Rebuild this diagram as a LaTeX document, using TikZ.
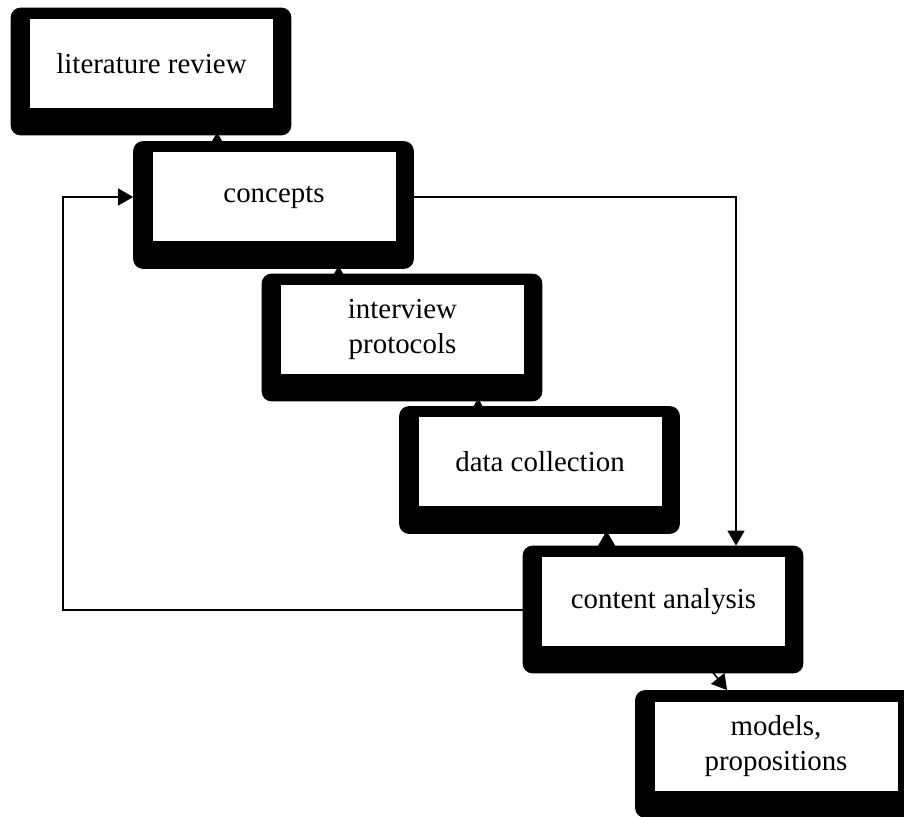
\documentclass[tikz,border=0pt]{standalone}
\usepackage{fontspec}
\setmainfont{Liberation Serif}
\usetikzlibrary{arrows.meta,backgrounds,calc}
\begin{document}
\begin{tikzpicture}[x=0.5pt,y=-0.5pt,
  procbox/.style={fill=white, inner sep=0pt, minimum width=121.5pt, minimum height=44.5pt,
    align=center, font=\fontsize{14.45}{17.5}\selectfont},
  shadowbox/.style={fill=black, rounded corners=5pt},
  arr/.style={-{Triangle[length=7.5pt,width=8.5pt]}, line width=0.8pt},
]
\useasboundingbox (0,0) rectangle (904,817);

\node[procbox] (lit) at (151.5,63.5) {literature review};
\node[procbox] (concepts) at (274,197) {concepts};
\node[procbox] (interview) at (402.5,329.5) {interview\\protocols};
\node[procbox] (data) at (540,462) {data collection};
\node[procbox] (content) at (663.5,601.5) {content analysis};
\node[procbox] (models) at (776,746) {models,\\propositions};

% anchor points for the short connectors
\coordinate (litb) at ([yshift=-12pt]lit.south);
\coordinate (conb) at ([yshift=-12pt]concepts.south);
\coordinate (intb) at ([yshift=-12pt]interview.south);
\coordinate (datb) at ([yshift=-12pt]data.south);
\coordinate (s1) at ([xshift=32.5pt,yshift=-6pt]concepts.north west);
\coordinate (s2) at ([xshift=29pt,yshift=-6pt]interview.north west);
\coordinate (s3) at ([xshift=30pt,yshift=-6pt]data.north west);
\coordinate (s4) at ([xshift=32.5pt,yshift=-6pt]content.north west);
\coordinate (s5) at ([xshift=80pt,yshift=-6pt]content.south west);
\coordinate (s5e) at ([xshift=36.5pt,yshift=5.5pt]models.north west);

\begin{pgfonlayer}{background}
  \draw[arr] (s1) -- (s1 |- litb);
  \draw[arr] (s2) -- (s2 |- conb);
  \draw[arr] (s3) -- (s3 |- intb);
  \draw[arr] (s4) -- (s4 |- datb);
  \draw[arr] (s5) -- (s5e);
  \foreach \n in {lit,concepts,interview,data,content,models}
    \fill[shadowbox] ([xshift=-9.5pt,yshift=5.5pt]\n.north west)
      rectangle ([xshift=9pt,yshift=-13.5pt]\n.south east);
\end{pgfonlayer}

% long connectors
\coordinate (cR) at ([xshift=9pt]concepts.east);
\coordinate (turn) at (736,197);
\coordinate (ctop) at ([yshift=5.5pt]content.north);
\draw[arr] (cR) -- (turn) -- (turn |- ctop);

\coordinate (fbA) at ([xshift=-9.5pt,yshift=-4.25pt]content.west);
\coordinate (fbL) at (63,610);
\coordinate (cL) at ([xshift=-9.5pt]concepts.west);
\draw[arr] (fbA) -- (fbL) -- (fbL |- cL) -- (cL);
\end{tikzpicture}
\end{document}
